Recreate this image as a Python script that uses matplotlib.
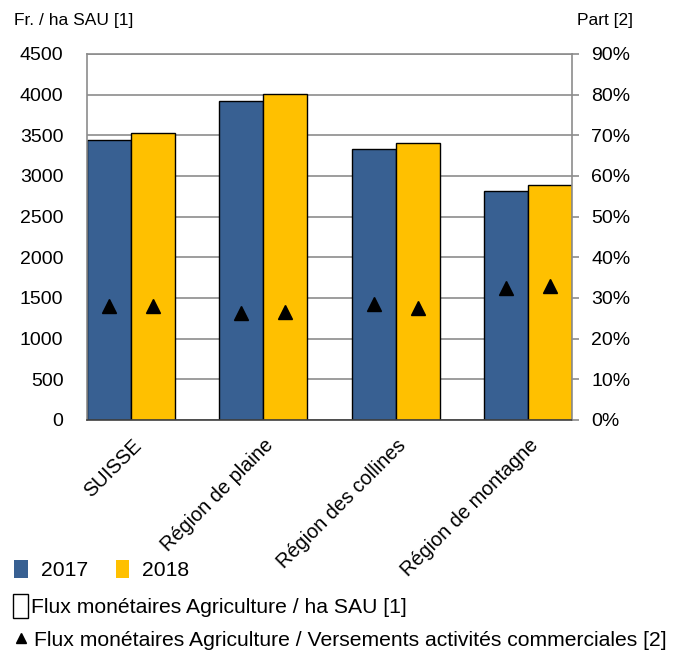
import numpy as np
import matplotlib.pyplot as plt
from matplotlib.patches import Rectangle
from matplotlib.lines import Line2D
from matplotlib.transforms import ScaledTranslation

plt.rcParams['font.family'] = ['Liberation Sans', 'DejaVu Sans']
plt.rcParams['font.size'] = 12

regions = ["SUISSE", "Région de plaine", "Région des collines", "Région de montagne"]
years = ["2017", "2018"]

# Fr. / ha SAU
flux_ha_2017 = [3448, 3922, 3326, 2814]
flux_ha_2018 = [3529, 4004, 3408, 2887]

# share of commercial payments, %
part_2017 = [28.0, 26.3, 28.5, 32.4]
part_2018 = [28.0, 26.6, 27.5, 32.9]

blue = "#386092"
yellow = "#FFC000"
grid_grey = "#8C8C8C"
tick_fs = 14
leg_fs = 15.2

fig = plt.figure(figsize=(6.86, 6.54), dpi=100)
ax = fig.add_axes([87/686, 1-420/654, (572-87)/686, (420-54)/654])

x = np.arange(len(regions))
w = 0.333
ax.bar(x - w/2, flux_ha_2017, w, color=blue, edgecolor="black", linewidth=1, zorder=2)
ax.bar(x + w/2, flux_ha_2018, w, color=yellow, edgecolor="black", linewidth=1, zorder=2)

ax.set_ylim(0, 4500)
ax.set_yticks(np.arange(0, 4501, 500))
ax.set_xlim(-w, len(regions) - 1 + w)
ax.yaxis.grid(True, color=grid_grey, linewidth=1.2, zorder=0)
ax.set_axisbelow(True)
ax.tick_params(axis='y', length=0, pad=17, labelsize=tick_fs)
ax.tick_params(axis='x', length=0, pad=9)
for s in ['left', 'right', 'top']:
    ax.spines[s].set_color(grid_grey)
    ax.spines[s].set_linewidth(1.2)
ax.spines['bottom'].set_color("#404040")
ax.spines['bottom'].set_linewidth(1.2)

ax.set_xticks(x)
ax.set_xticklabels(regions, rotation=45, ha='right', fontsize=14.3)
shift = ScaledTranslation(14/100, -3/100, fig.dpi_scale_trans)
for lab in ax.get_xticklabels():
    lab.set_transform(lab.get_transform() + shift)

ax2 = ax.twinx()
ax2.set_ylim(0, 90)
ax2.set_yticks(np.arange(0, 91, 10))
ax2.set_yticklabels([f"{v}%" for v in range(0, 91, 10)])
ax2.tick_params(axis='y', length=5, width=1.2, color=grid_grey, pad=9, labelsize=tick_fs)
for s in ax2.spines.values():
    s.set_visible(False)
ax2.plot(x - w/2, part_2017, linestyle='none', marker='^', color='black', markersize=10, zorder=3)
ax2.plot(x + w/2, part_2018, linestyle='none', marker='^', color='black', markersize=10, zorder=3)

fig.text(14/686, 1-20/654, "Fr. / ha SAU [1]", fontsize=12.5, va='center', ha='left')
fig.text(633/686, 1-20/654, "Part [2]", fontsize=12.5, va='center', ha='right')

# legend rows
h_years = [Rectangle((0, 0), 1, 1, facecolor=blue, edgecolor='none'),
           Rectangle((0, 0), 1, 1, facecolor=yellow, edgecolor='none')]
fig.legend(h_years, years, loc='center left', bbox_to_anchor=(6/686, 1-570/654),
           ncol=2, frameon=False, handlelength=0.65, handleheight=0.95,
           handletextpad=0.6, columnspacing=1.3, fontsize=leg_fs, borderaxespad=0)
h_box = [Rectangle((0, 0), 1, 1, facecolor='white', edgecolor='black', linewidth=1)]
fig.legend(h_box, ["Flux monétaires Agriculture / ha SAU [1]"], loc='center left',
           bbox_to_anchor=(5/686, 1-606/654), frameon=False, handlelength=0.7,
           handleheight=1.3, handletextpad=0.15, fontsize=leg_fs, borderaxespad=0)
h_tri = [Line2D([], [], linestyle='none', marker='^', color='black', markersize=7.5)]
fig.legend(h_tri, ["Flux monétaires Agriculture / Versements activités commerciales [2]"],
           loc='center left', bbox_to_anchor=(6/686, 1-640/654), frameon=False,
           handlelength=0.65, handletextpad=0.3, fontsize=leg_fs, borderaxespad=0)

fig.savefig("out.png", dpi=100)
